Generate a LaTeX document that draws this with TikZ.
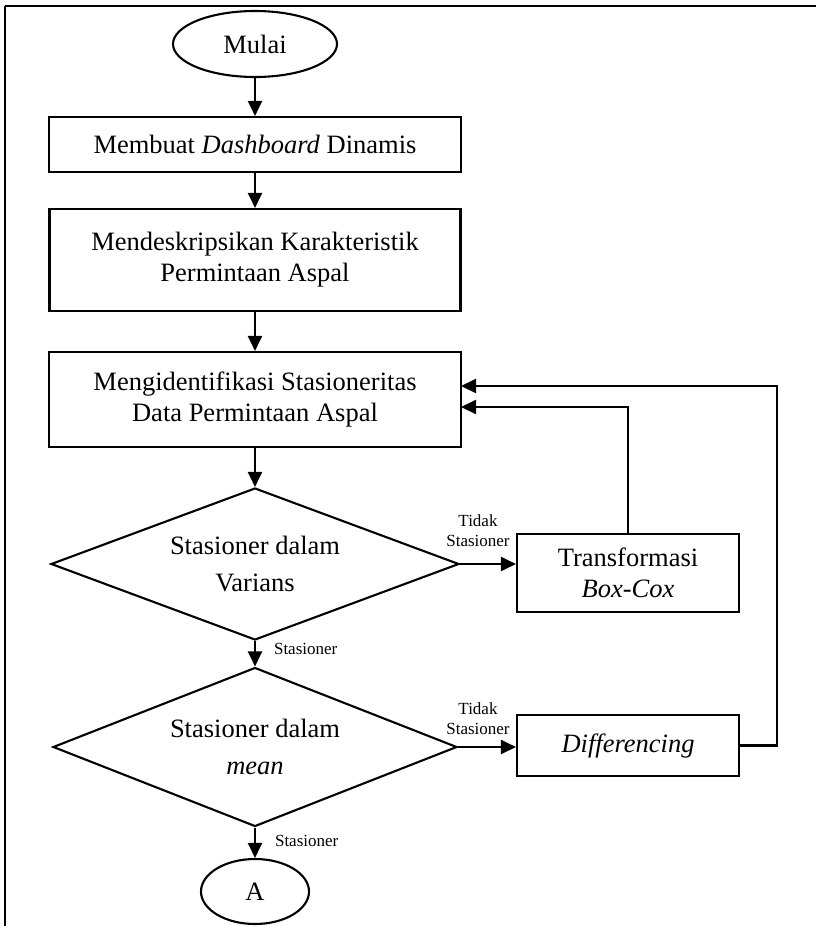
\documentclass[tikz,border=0pt]{standalone}
\usepackage{fontspec}
\setmainfont{Liberation Serif}
\usetikzlibrary{shapes.geometric,arrows.meta}
\begin{document}
\begin{tikzpicture}[x=1pt,y=-1pt,
  line width=2.1pt,
  big/.style={font=\fontsize{26.5}{31}\selectfont, align=center, inner sep=0pt},
  small/.style={font=\fontsize{17}{20}\selectfont, align=center, inner sep=0pt},
  procbox/.style={big, draw, rectangle},
  termnode/.style={big, draw, ellipse},
  decnode/.style={big, draw, diamond, aspect=2.65, font=\fontsize{26.5}{37}\selectfont},
  arr/.style={-{Triangle[length=15pt,width=14pt]}}
]
\useasboundingbox (0,0) rectangle (816,926);
% frame
\draw[line width=2.4pt] (5,6) -- (816,6);
\draw[line width=2.4pt] (5,6) -- (5,926);

\node[termnode, minimum width=164pt, minimum height=66pt] (mulai) at (255,44) {Mulai};
\node[procbox, minimum width=412pt, minimum height=55pt] (b1) at (255,144.5) {Membuat \textit{Dashboard} Dinamis};
\node[procbox, minimum width=411pt, minimum height=102pt] (b2) at (255,260) {Mendeskripsikan Karakteristik\\Permintaan Aspal};
\node[procbox, minimum width=412pt, minimum height=95pt] (b3) at (255,399.5) {Mengidentifikasi Stasioneritas\\Data Permintaan Aspal};
\node[decnode, minimum width=408pt, minimum height=152pt] (d1) at (255,564) {Stasioner dalam\\Varians};
\node[decnode, minimum width=404pt, minimum height=159pt] (d2) at (255,747) {Stasioner dalam\\\textit{mean}};
\node[termnode, minimum width=108pt, minimum height=65pt] (akhir) at (255,891.5) {A};
\node[procbox, minimum width=222pt, minimum height=78pt] (tr) at (628,573) {Transformasi\\\textit{Box-Cox}};
\node[procbox, minimum width=222pt, minimum height=61pt] (df) at (628,745.5) {\textit{Differencing}};

\node[small] (l1) at (478,531) {Tidak\\Stasioner};
\node[small] (l2) at (478,719) {Tidak\\Stasioner};
\node[small, anchor=west] (l3) at (273,649) {Stasioner};
\node[small, anchor=west] (l4) at (274,841) {Stasioner};

\coordinate (r1) at (461,407);
\coordinate (r2) at (461,386);
\coordinate (lp) at (777,386);

\draw[arr] (mulai) -- (b1);
\draw[arr] (b1) -- (b2);
\draw[arr] (b2) -- (b3);
\draw[arr] (b3) -- (d1);
\draw[arr] (d1) -- (d2);
\draw[arr] (d2) -- (akhir);
\draw[arr] (d1.east) -- (d1.east -| tr.west);
\draw[arr] (d2.east) -- (d2.east -| df.west);
\draw[arr] (tr.north) |- (r1);
\draw[arr] (df.east) -| (lp) -- (r2);
\end{tikzpicture}
\end{document}
